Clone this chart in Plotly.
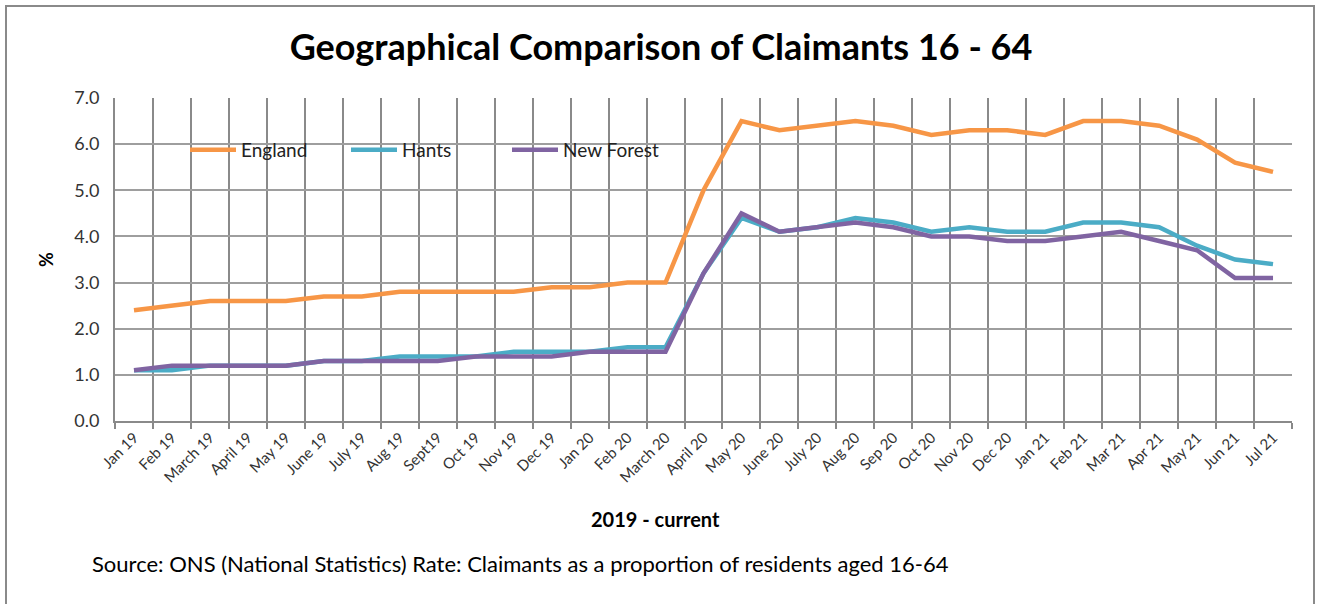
import plotly.graph_objects as go

months = ["Jan 19", "Feb 19", "March 19", "April 19", "May 19", "June 19", "July 19",
          "Aug 19", "Sept19", "Oct 19", "Nov 19", "Dec 19", "Jan 20", "Feb 20",
          "March 20", "April 20", "May 20", "June 20", "July 20", "Aug 20", "Sep 20",
          "Oct 20", "Nov 20", "Dec 20", "Jan 21", "Feb 21", "Mar 21", "Apr 21",
          "May 21", "Jun 21", "Jul 21"]

england = [2.4, 2.5, 2.6, 2.6, 2.6, 2.7, 2.7, 2.8, 2.8, 2.8, 2.8, 2.9, 2.9, 3.0, 3.0,
           5.0, 6.5, 6.3, 6.4, 6.5, 6.4, 6.2, 6.3, 6.3, 6.2, 6.5, 6.5, 6.4, 6.1, 5.6, 5.4]
hants = [1.1, 1.1, 1.2, 1.2, 1.2, 1.3, 1.3, 1.4, 1.4, 1.4, 1.5, 1.5, 1.5, 1.6, 1.6,
         3.2, 4.4, 4.1, 4.2, 4.4, 4.3, 4.1, 4.2, 4.1, 4.1, 4.3, 4.3, 4.2, 3.8, 3.5, 3.4]
new_forest = [1.1, 1.2, 1.2, 1.2, 1.2, 1.3, 1.3, 1.3, 1.3, 1.4, 1.4, 1.4, 1.5, 1.5, 1.5,
              3.2, 4.5, 4.1, 4.2, 4.3, 4.2, 4.0, 4.0, 3.9, 3.9, 4.0, 4.1, 3.9, 3.7, 3.1, 3.1]

series = [("England", england, "#F79646"),
          ("Hants", hants, "#4BACC6"),
          ("New Forest", new_forest, "#8064A2")]

FONT = "Lato"

fig = go.Figure()
for name, vals, color in series:
    fig.add_trace(go.Scatter(x=months, y=vals, name=name, mode="lines",
                             line=dict(color=color, width=4.5)))

L, R, T, B = 115, 30, 98, 183
W, H = 1322, 604
pw, ph = W - L - R, H - T - B

def px_x(x):
    return (x - L) / pw

def px_y(y):
    return (H - B - y) / ph

fig.update_layout(
    width=W, height=H,
    margin=dict(l=L, r=R, t=T, b=B),
    paper_bgcolor="white", plot_bgcolor="white",
    font=dict(family=FONT, color="#404040"),
    title=dict(text="<b>Geographical Comparison of Claimants 16 - 64</b>",
               x=0.5, xanchor="center", y=1 - 47 / H, yanchor="middle",
               font=dict(family=FONT, size=36, color="black")),
    showlegend=True,
    legend=dict(orientation="h", x=px_x(185), xanchor="left",
                y=px_y(150), yanchor="middle", bgcolor="rgba(0,0,0,0)",
                font=dict(family=FONT, size=19, color="#222"),
                itemwidth=46, entrywidth=100, entrywidthmode="pixels"),
    xaxis=dict(type="category", tickson="boundaries", ticks="outside", ticklen=6,
               tickcolor="#888", tickwidth=2,
               showgrid=True, gridcolor="#8a8a8a", gridwidth=2,
               showline=True, linecolor="#8a8a8a", linewidth=2,
               tickangle=-45, tickfont=dict(family=FONT, size=15, color="#333"),
               range=[-0.5, 30.5]),
    yaxis=dict(range=[0, 7], dtick=1, tickformat=".1f",
               showgrid=True, gridcolor="#9e9e9e", gridwidth=2,
               showline=True, linecolor="#8a8a8a", linewidth=2,
               zeroline=False, ticks="", ticklen=0, ticklabelstandoff=10,
               tickfont=dict(family=FONT, size=18, color="#333"),
               title=dict(text="<b>%</b>", standoff=16,
                          font=dict(family=FONT, size=18, color="black"))),
    shapes=[
        dict(type="rect", xref="paper", yref="paper",
             x0=px_x(148), x1=px_x(686), y0=px_y(186), y1=px_y(115),
             fillcolor="white", line=dict(width=0), layer="between"),
        dict(type="rect", xref="paper", yref="paper",
             x0=px_x(6), x1=px_x(1314), y0=px_y(620), y1=px_y(6),
             fillcolor="rgba(0,0,0,0)", line=dict(color="#8a8a8a", width=2),
             layer="above"),
    ],
    annotations=[
        dict(text="<b>2019 - current</b>", xref="paper", yref="paper",
             x=px_x(655), y=px_y(519), xanchor="center", yanchor="middle",
             showarrow=False, font=dict(family=FONT, size=20, color="black")),
        dict(text="Source: ONS (National Statistics) Rate: Claimants as a proportion of residents aged 16-64",
             xref="paper", yref="paper", x=px_x(90), y=px_y(563),
             xanchor="left", yanchor="middle", showarrow=False,
             font=dict(family=FONT, size=22, color="black")),
    ],
)

fig.write_html("out.html", config={"displayModeBar": False},
               post_script="document.body.style.margin='0';")
